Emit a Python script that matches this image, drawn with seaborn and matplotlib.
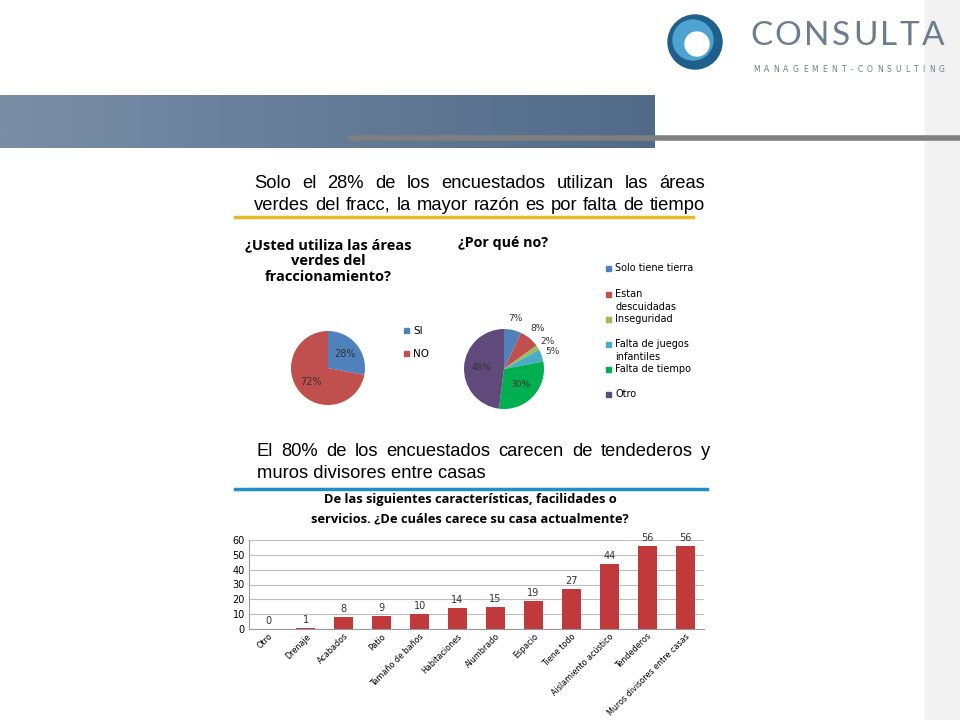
import matplotlib
matplotlib.use("Agg")
import matplotlib.pyplot as plt
import seaborn as sns
import pandas as pd
import numpy as np
from matplotlib.patches import Rectangle, Circle

uso_labels = ["SI", "NO"]
uso_vals = [28, 72]
razon_labels = ["Solo tiene tierra", "Estan\ndescuidadas", "Inseguridad",
                "Falta de juegos\ninfantiles", "Falta de tiempo", "Otro"]
razon_vals = [7, 8, 2, 5, 30, 48]
car_labels = ["Otro", "Drenaje", "Acabados", "Patio", "Tamaño de baños", "Habitaciones",
              "Alumbrado", "Espacio", "Tiene todo", "Aislamiento acústico", "Tendederos",
              "Muros divisores entre casas"]
car_vals = [0, 1, 8, 9, 10, 14, 15, 19, 27, 44, 56, 56]

W, H = 960, 720
fig = plt.figure(figsize=(9.6, 7.2), dpi=100)
bg = fig.add_axes([0, 0, 1, 1])
bg.set_xlim(0, W); bg.set_ylim(H, 0); bg.axis("off")
renderer = fig.canvas.get_renderer()

def ax_px(x0, y0, x1, y1):
    return fig.add_axes([x0 / W, 1 - y1 / H, (x1 - x0) / W, (y1 - y0) / H])

def justify(text, x0, x1, y, fs, **kw):
    words = list(text)
    ts = [bg.text(0, y, w, fontsize=fs, va="center", **kw) for w in words] if kw.get("chars") else None

def justify_words(items, x0, x1, y, fs, **kw):
    ts = [bg.text(0, y, w, fontsize=fs, va="center", **kw) for w in items]
    widths = [t.get_window_extent(renderer).width for t in ts]
    gap = (x1 - x0 - sum(widths)) / (len(items) - 1)
    x = x0
    for t, w in zip(ts, widths):
        t.set_x(x)
        x += w + gap

# right side faint band
bg.add_patch(Rectangle((925, 0), 35, 720, color="#f2f2f2", zorder=0))
grad = np.linspace(0, 1, 256).reshape(1, -1)
bg.imshow(grad, extent=(0, 655, 148, 95), cmap=matplotlib.colors.LinearSegmentedColormap.from_list(
    "b", ["#7a8ea6", "#506a88"]), aspect="auto", zorder=1)
bg.plot([350, 960], [138, 138], color="#7f7f7f", lw=4, zorder=2)
bg.set_xlim(0, W); bg.set_ylim(H, 0)

# logo
bg.add_patch(Circle((695, 42), 27, color="#1f5f8b", zorder=2))
bg.add_patch(Circle((693, 40), 20, color="#4fa3d1", zorder=3))
bg.add_patch(Circle((697, 44), 12, color="white", zorder=4))
justify_words(list("CONSULTA"), 750, 945, 36, 24, color="#6b7d8f", family="Lato", zorder=5)
justify_words(list("MANAGEMENT - CONSULTING".replace(" ", "")), 753, 945, 70, 5.5,
              color="#6b7d8f", zorder=5)

# paragraphs
FS = 13.2
P = dict(family="Liberation Sans")
justify_words("Solo el 28% de los encuestados utilizan las áreas".split(), 254, 705, 183, FS, **P)
justify_words("verdes del fracc, la mayor razón es por falta de tiempo".split(), 254, 705, 205, FS, **P)
bg.plot([235, 693], [217, 217], color="#e8b923", lw=2.5)
justify_words("El 80% de los encuestados carecen de tendederos y".split(), 257, 710, 452, FS, **P)
bg.text(257, 474, "muros divisores entre casas", fontsize=FS, va="center", **P)
bg.plot([235, 707], [489, 489], color="#1f8fc4", lw=2.5)

# pie titles
bg.text(328, 261, "¿Usted utiliza las áreas\nverdes del\nfraccionamiento?", fontsize=10.5,
        fontweight="bold", ha="center", va="center", family="Open Sans", linespacing=1.2)
bg.text(458, 243, "¿Por qué no?", fontsize=10.3, fontweight="bold", ha="left", va="center",
        family="Open Sans")

# pie 1
c1 = ["#4f81bd", "#c0504d"]
a1 = ax_px(291, 331, 365, 405)
a1.pie(uso_vals, colors=c1, startangle=90, counterclock=False, radius=1,
       autopct="%d%%", pctdistance=0.6, textprops={"fontsize": 7, "color": "#333333"},
       wedgeprops={"linewidth": 0})
a1.set_xlim(-1, 1); a1.set_ylim(-1, 1)
for i, (lab, col) in enumerate(zip(uso_labels, c1)):
    bg.add_patch(Rectangle((404, 328 + 23 * i), 5, 5, color=col))
    bg.text(413, 331 + 23 * i, lab, fontsize=7.5, va="center")

# pie 2
c2 = ["#4f81bd", "#c0504d", "#9bbb59", "#4bacc6", "#00b050", "#604a7b"]
a2 = ax_px(464, 329, 544, 409)
a2.pie(razon_vals, colors=c2, startangle=90, counterclock=False, wedgeprops={"linewidth": 0})
a2.set_xlim(-1, 1); a2.set_ylim(-1, 1)
ang = 90
for v in razon_vals:
    mid = np.deg2rad(ang - v * 3.6 / 2)
    ang -= v * 3.6
    r = 0.55 if v > 20 else 1.3
    a2.text(r * np.cos(mid), r * np.sin(mid), f"{v}%", fontsize=6.5, ha="center",
            va="center", color="#333333")
leg_y = [268, 294, 319, 344, 369, 394]
for lab, col, y in zip(razon_labels, c2, leg_y):
    bg.add_patch(Rectangle((606, y - 2.5), 5, 5, color=col))
    for k, line in enumerate(lab.split("\n")):
        bg.text(615, y + 13 * k, line, fontsize=7, va="center")

# bar chart
bg.text(470, 509, "De las siguientes características, facilidades o\nservicios. ¿De cuáles carece su casa actualmente?",
        fontsize=9.3, fontweight="bold", ha="center", va="center", family="Open Sans",
        linespacing=1.6)
ab = ax_px(249, 540, 704, 629)
df = pd.DataFrame({"cat": car_labels, "val": car_vals})
sns.barplot(data=df, x="cat", y="val", color="#c0393b", saturation=1, width=0.5, ax=ab)
ab.set_ylim(0, 60)
ab.set_yticks(range(0, 61, 10))
ab.yaxis.grid(True, color="#bfbfbf", lw=0.8)
ab.set_axisbelow(True)
ab.set_xlabel(""); ab.set_ylabel("")
for s in ["top", "right"]:
    ab.spines[s].set_visible(False)
ab.spines["left"].set_color("#999999"); ab.spines["bottom"].set_color("#999999")
ab.tick_params(axis="y", labelsize=7, length=0, pad=3)
ab.tick_params(axis="x", labelsize=5.8, length=0, pad=2)
ab.set_xticks(range(len(car_labels)))
ab.set_xticklabels(car_labels, rotation=45, ha="right", rotation_mode="anchor")
for i, v in enumerate(car_vals):
    ab.text(i, v + 2, str(v), ha="center", va="bottom", fontsize=7, color="#333333")

fig.savefig("out.png", dpi=100)
